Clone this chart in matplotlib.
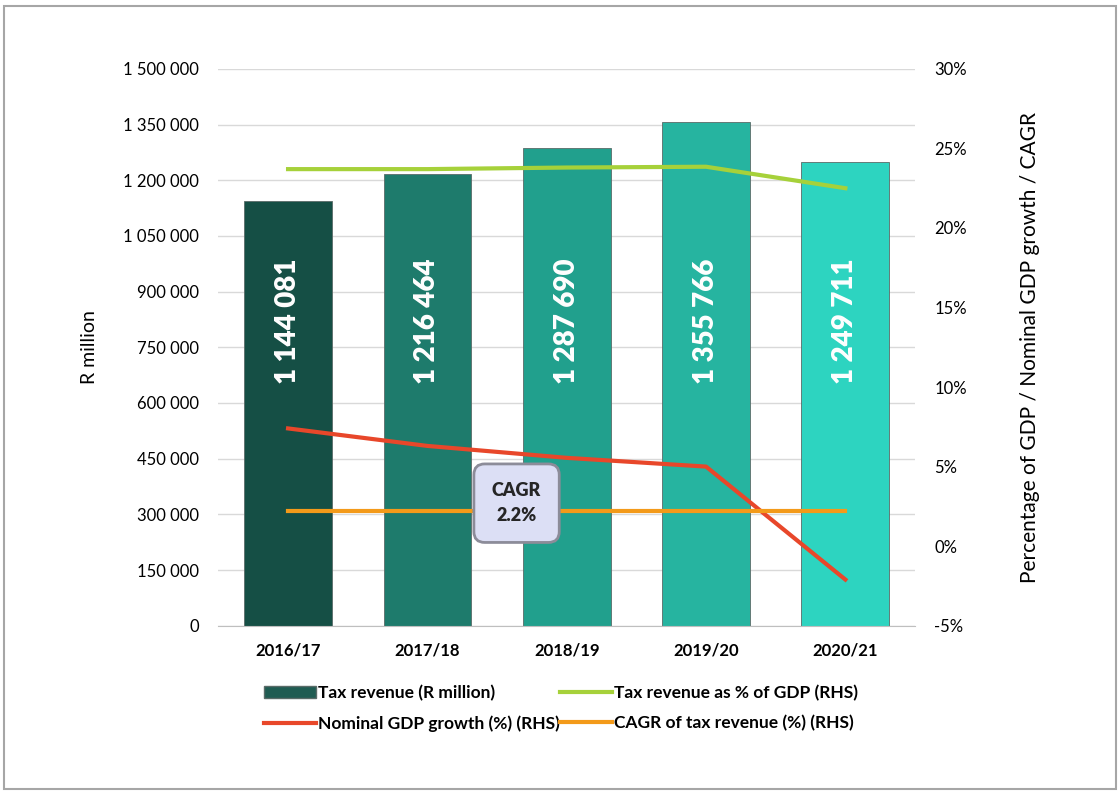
import numpy as np
import matplotlib.pyplot as plt
from matplotlib.patches import Patch, Rectangle
from matplotlib.lines import Line2D

plt.rcParams['font.family'] = ['Lato', 'DejaVu Sans']

years = ['2016/17', '2017/18', '2018/19', '2019/20', '2020/21']
tax_revenue = [1144081, 1216464, 1287690, 1355766, 1249711]
tax_pct_gdp = [23.7, 23.7, 23.8, 23.85, 22.5]
gdp_growth = [7.4, 6.3, 5.55, 5.0, -2.1]
cagr = [2.2, 2.2, 2.2, 2.2, 2.2]

bar_colors = ['#154f45', '#1e7b6c', '#21a08d', '#26b4a0', '#2dd4c0']

fig = plt.figure(figsize=(11.2, 7.92), dpi=100)
ax = fig.add_axes([0.195, 0.21, 0.622, 0.703])
ax2 = ax.twinx()

x = np.arange(len(years))
bars = ax.bar(x, tax_revenue, width=0.63, color=bar_colors,
              edgecolor='#5a6b68', linewidth=0.6, zorder=2)

for xi, v in zip(x, tax_revenue):
    s = f'{v:,}'.replace(',', ' ')
    ax.text(xi, 820000, s, rotation=90, ha='center', va='center',
            color='white', fontsize=20, fontweight='heavy', zorder=3)

ax.set_ylim(0, 1500000)
ax.set_yticks(np.arange(0, 1500001, 150000))
ax.set_yticklabels([f'{t:,}'.replace(',', ' ') for t in range(0, 1500001, 150000)])
ax.set_xlim(-0.5, 4.5)
ax.set_xticks(x)
ax.set_xticklabels(years, fontweight='bold')
ax.grid(axis='y', color='#d9d9d9', linewidth=1, zorder=0)
ax.set_axisbelow(True)
ax.set_ylabel('R million', fontsize=14, labelpad=18)

for sp in ['top', 'right', 'left']:
    ax.spines[sp].set_visible(False)
    ax2.spines[sp].set_visible(False)
ax.spines['bottom'].set_color('#bfbfbf')
ax2.spines['bottom'].set_visible(False)
ax.tick_params(axis='y', length=0, labelsize=12, pad=14)
ax.tick_params(axis='x', length=0, labelsize=12, pad=12)

ax2.plot(x, tax_pct_gdp, color='#a6d13a', linewidth=3, zorder=4)
ax2.plot(x, gdp_growth, color='#e8472a', linewidth=3, zorder=4)
ax2.plot(x, cagr, color='#f39a1a', linewidth=3, zorder=4)
ax2.set_ylim(-5, 30)
ax2.set_yticks(np.arange(-5, 31, 5))
ax2.set_yticklabels([f'{t}%' for t in range(-5, 31, 5)])
ax2.tick_params(axis='y', length=0, labelsize=12, pad=14)
ax2.set_ylabel('Percentage of GDP / Nominal GDP growth / CAGR', fontsize=15, labelpad=38)

# CAGR callout
ax2.text(1.64, 2.7, 'CAGR\n2.2%', ha='center', va='center', fontsize=13,
         fontweight='heavy', color='#262626', zorder=6, linespacing=1.6,
         bbox=dict(boxstyle='round,pad=1.0,rounding_size=0.6',
                   facecolor='#dcdff5', edgecolor='#8c8c99', linewidth=2))

handles = [Patch(facecolor='#1f5c52', edgecolor='#5a6b68'),
           Line2D([], [], color='#e8472a', linewidth=3),
           Line2D([], [], color='#a6d13a', linewidth=3),
           Line2D([], [], color='#f39a1a', linewidth=3)]
labels = ['Tax revenue (R million)', 'Nominal GDP growth (%) (RHS)',
          'Tax revenue as % of GDP (RHS)', 'CAGR of tax revenue (%) (RHS)']
fig.legend(handles, labels, ncol=2, loc='upper left', bbox_to_anchor=(0.222, 0.155),
           frameon=False, handlelength=3, handletextpad=0.1,
           columnspacing=0.0, labelspacing=0.8, prop={'weight': 'bold', 'size': 12.5})

fig.patches.append(Rectangle((0.004, 0.004), 0.992, 0.989, transform=fig.transFigure,
                             fill=False, edgecolor='#a6a6a6', linewidth=1.5))

fig.savefig('out.png', dpi=100)
